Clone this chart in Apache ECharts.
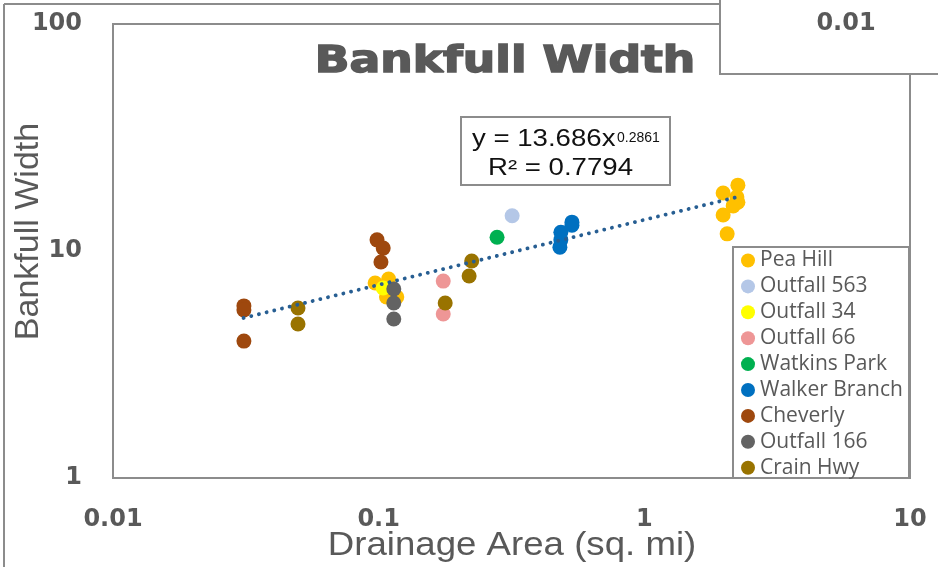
<!DOCTYPE html>
<html>
<head>
<meta charset="utf-8">
<script src="https://cdn.jsdelivr.net/npm/echarts@6/dist/echarts.min.js"></script>
<style>html,body{margin:0;padding:0;background:#fff}#c{width:938px;height:567px}</style>
</head>
<body>
<div id="c"></div>
<script>
// ---- data (x = drainage area sq. mi, y = bankfull width) ----
const seriesNames = ['Pea Hill','Outfall 563','Outfall 34','Outfall 66','Watkins Park','Walker Branch','Cheverly','Outfall 166','Crain Hwy'];
const peaHill = [[0.097,7.23],[0.109,7.53],[0.107,6.27],[0.117,6.27],[2.25,19.5],[1.98,18.0],[2.23,17.3],[2.25,16.4],[2.16,15.8],[1.98,14.4],[2.05,11.9]];
const outfall563 = [[0.318,14.3]];
const outfall34 = [[0.104,6.87]];
const outfall66 = [[0.175,7.37],[0.175,5.28]];
const watkinsPark = [[0.279,11.5]];
const walkerBranch = [[0.485,12.1],[0.485,11.2],[0.481,10.4],[0.534,13.4],[0.534,13.0]];
const cheverly = [[0.0311,5.73],[0.0311,5.50],[0.0311,4.01],[0.0986,11.2],[0.104,10.3],[0.102,8.95]];
const outfall166 = [[0.114,6.80],[0.114,5.90],[0.114,5.02]];
const crainHwy = [[0.0497,5.61],[0.0497,4.77],[0.178,5.90],[0.224,9.03],[0.219,7.76]];
const trendEnds = [[0.031,5.07],[2.2,17.2]];
const xTicks = [0.01,0.1,1,10];
const yTicks = [1,10,100];
const eqLine1 = 'y = 13.686x';
const eqExp = '0.2861';
const eqLine2 = 'R² = 0.7794';

const colors = ['#FFC000','#B4C7E7','#FFFF00','#EE9696','#00B050','#0070C0','#9E480E','#636363','#997300'];
const dataSets = [peaHill,outfall563,outfall34,outfall66,watkinsPark,walkerBranch,cheverly,outfall166,crainHwy];

const chart = echarts.init(document.getElementById('c'), null, {renderer:'canvas'});
const GRAY = '#8c8c8c', TXT = '#595959';
const tickFont = {fontFamily:'DejaVu Sans', fontWeight:'bold', fontSize:24, color:TXT, lineHeight:24};

function txt(x,y,text,opts){
  return Object.assign({type:'text', x:x, y:y, z:20, style:Object.assign({text:text, fill:TXT,
    align:'center', verticalAlign:'middle', textAlign:'center', textVerticalAlign:'middle',
    fontFamily:'Liberation Sans', fontSize:20}, opts.style||{})}, opts.el||{});
}

const series = dataSets.map((d,i)=>({
  name: seriesNames[i], type:'scatter', data:d, symbol:'circle', symbolSize:15,
  itemStyle:{color:colors[i], opacity:1}, z:2, emphasis:{disabled:true}
}));
series.push({
  name:'trend', type:'line', data:trendEnds, showSymbol:false, symbol:'none', z:5,
  lineStyle:{color:'#275E92', width:3.8, type:[0.1,7.8], cap:'round'}, silent:true
});

chart.setOption({
  animation:false,
  grid:{left:113, top:24, width:797, height:454, show:true, borderColor:GRAY, borderWidth:2, backgroundColor:'transparent'},
  xAxis:{type:'log', logBase:10, min:xTicks[0], max:xTicks[xTicks.length-1],
    axisLine:{show:false}, axisTick:{show:false}, splitLine:{show:false},
    axisLabel:Object.assign({margin:30, formatter:v=>String(+v.toPrecision(3))}, tickFont)},
  yAxis:{type:'log', logBase:10, min:yTicks[0], max:yTicks[yTicks.length-1],
    axisLine:{show:false}, axisTick:{show:false}, splitLine:{show:false},
    axisLabel:Object.assign({margin:31, formatter:v=>String(+v.toPrecision(3))}, tickFont)},
  legend:{orient:'vertical', left:741, top:250, padding:0, itemWidth:14, itemHeight:14, itemGap:4.9,
    icon:'circle', z:8, data:seriesNames,
    textStyle:{fontFamily:'Open Sans', fontSize:21, color:TXT, lineHeight:20}},
  series:series,
  graphic:[
    // outer frame
    {type:'line', z:1, shape:{x1:4,y1:4,x2:720,y2:4}, style:{stroke:GRAY, lineWidth:2}},
    {type:'line', z:1, shape:{x1:4,y1:4,x2:4,y2:570}, style:{stroke:GRAY, lineWidth:2}},
    // top-right stray box
    {type:'rect', z:15, shape:{x:720,y:-5,width:230,height:79}, style:{fill:'#fff', stroke:GRAY, lineWidth:2}},
    txt(846,24,'0.01',{style:{fontFamily:'DejaVu Sans', fontWeight:'bold', fontSize:24}}),
    // legend box
    {type:'rect', z:3, shape:{x:733,y:247,width:176,height:231}, style:{fill:'#fff', stroke:GRAY, lineWidth:2}},
    // title
    txt(505,62,'Bankfull Width',{style:{fontFamily:'DejaVu Sans', fontWeight:'bold', fontSize:38, stroke:TXT, lineWidth:1.5}, el:{scaleX:1.2}}),
    // equation box
    {type:'rect', z:3, shape:{x:461,y:117,width:209,height:68}, style:{fill:'#fff', stroke:GRAY, lineWidth:2}},
    txt(472,140,eqLine1,{style:{fill:'#111', fontSize:23, align:'left', textAlign:'left'}, el:{scaleX:1.2}}),
    txt(617,138,eqExp,{style:{fill:'#111', fontSize:14, align:'left', textAlign:'left'}, el:{scaleX:1.0}}),
    txt(560.5,168.5,eqLine2,{style:{fill:'#111', fontSize:23}, el:{scaleX:1.2}}),
    // axis names
    txt(512,546,'Drainage Area (sq. mi)',{style:{fontSize:33}, el:{scaleX:1.11}}),
    txt(29,231.5,'Bankfull Width',{style:{fontSize:34}, el:{rotation:Math.PI/2}})
  ]
});
</script>
</body>
</html>
